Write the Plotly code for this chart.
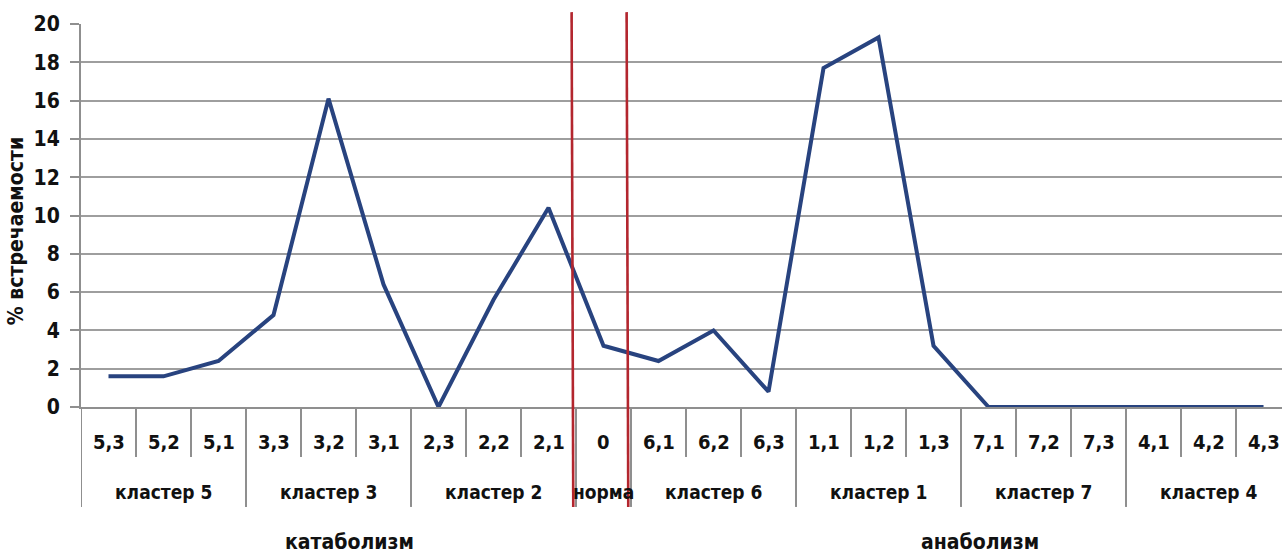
import plotly.graph_objects as go

# Sub-category codes (first axis level) and their frequencies, %
codes = ["5,3", "5,2", "5,1", "3,3", "3,2", "3,1", "2,3", "2,2", "2,1", "0",
         "6,1", "6,2", "6,3", "1,1", "1,2", "1,3", "7,1", "7,2", "7,3",
         "4,1", "4,2", "4,3"]
freq = [1.6, 1.6, 2.4, 4.8, 16.1, 6.4, 0.0, 5.6, 10.4, 3.2,
        2.4, 4.0, 0.8, 17.7, 19.3, 3.2, 0.0, 0.0, 0.0,
        0.0, 0.0, 0.0]

# Second axis level: group name and number of sub-categories it spans
groups = ["кластер 5", "кластер 3", "кластер 2", "норма",
          "кластер 6", "кластер 1", "кластер 7", "кластер 4"]
group_sizes = [3, 3, 3, 1, 3, 3, 3, 3]

# Third level: metabolic direction labels and their centre positions
phases = ["катаболизм", "анаболизм"]
phase_pos = [4.39, 15.85]

y_title = "% встречаемости"
y_ticks = [0, 2, 4, 6, 8, 10, 12, 14, 16, 18, 20]

FONT = "DejaVu Sans Condensed, Liberation Sans Narrow, sans-serif"
GRID = "#9e9e9e"
AXIS = "#8f8f8f"
LINE = "#28437f"
RED = "#b3262e"
INK = "#111111"

x = list(range(len(codes)))

fig = go.Figure()
fig.add_trace(go.Scatter(
    x=x, y=freq, mode="lines",
    line=dict(color=LINE, width=4),
    hoverinfo="skip", showlegend=False,
))

# paper-y positions of the category-axis pieces
Y_SHORT = -0.1305
Y_LONG = -0.261
Y_LVL1 = -0.0914
Y_LVL2 = -0.222
Y_LVL3 = -0.352

shapes = []
# separators between sub-categories (short) and between groups (long)
bounds = set()
acc = 0
for s in group_sizes:
    acc += s
    bounds.add(acc)
for k in range(0, len(codes)):
    xb = k - 0.5
    long_tick = (k == 0) or (k in bounds)
    shapes.append(dict(type="line", xref="x", yref="paper",
                       x0=xb, x1=xb, y0=0, y1=Y_LONG if long_tick else Y_SHORT,
                       line=dict(color=AXIS, width=2)))

# red boundaries around the "норма" category
for xb in (8.45, 9.45):
    shapes.append(dict(type="line", xref="x", yref="paper",
                       x0=xb - 0.03, x1=xb, y0=1.031, y1=Y_LONG,
                       line=dict(color=RED, width=2.6)))

annotations = []
for i, c in enumerate(codes):
    annotations.append(dict(x=i, y=Y_LVL1, xref="x", yref="paper",
                            text=f"<b>{c}</b>",
                            showarrow=False, yanchor="middle",
                            font=dict(family=FONT, size=20, color=INK)))
start = 0
for g, s in zip(groups, group_sizes):
    cx = start + (s - 1) / 2
    annotations.append(dict(x=cx, y=Y_LVL2, xref="x", yref="paper",
                            text=f"<b>{g}</b>",
                            showarrow=False, yanchor="middle",
                            font=dict(family=FONT, size=19, color=INK)))
    start += s
for p, px in zip(phases, phase_pos):
    annotations.append(dict(x=px, y=Y_LVL3, xref="x", yref="paper",
                            text=f"<b>{p}</b>",
                            showarrow=False, yanchor="middle",
                            font=dict(family=FONT, size=21, color=INK)))
annotations.append(dict(x=-0.0545, y=0.458, xref="paper", yref="paper",
                        text=f"<b>{y_title}</b>", textangle=-90,
                        showarrow=False, xanchor="center", yanchor="middle",
                        font=dict(family=FONT, size=21, color=INK)))

fig.update_layout(
    width=1282, height=553,
    margin=dict(l=81, r=0, t=24, b=146),
    paper_bgcolor="white", plot_bgcolor="white",
    font=dict(family=FONT, color=INK),
    shapes=shapes, annotations=annotations,
    showlegend=False,
)
fig.update_xaxes(
    range=[-0.5, 21.336], showticklabels=False, showgrid=False,
    zeroline=False, showline=True, linecolor=AXIS, linewidth=2,
    ticks="",
)
fig.update_yaxes(
    range=[0, 20], tickvals=y_ticks,
    ticktext=[f"<b>{v}</b>" for v in y_ticks],
    showgrid=True, gridcolor=GRID,
    gridwidth=2, zeroline=False, showline=True, linecolor=AXIS, linewidth=2,
    ticks="outside", ticklen=9, tickcolor=AXIS, tickwidth=2,
    tickfont=dict(family=FONT, size=21, color=INK),
    ticklabelstandoff=6,
)

fig.write_html("out.html")
